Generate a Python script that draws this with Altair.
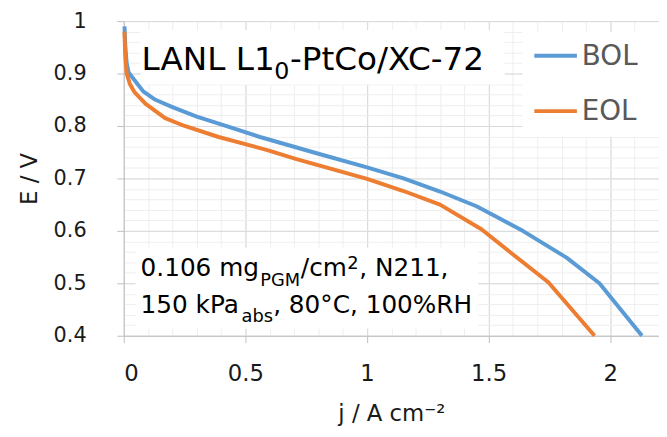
import altair as alt
import pandas as pd

# ---- data ----
bol_j = [0.003, 0.006, 0.012, 0.02, 0.05, 0.08, 0.13, 0.2, 0.3, 0.4, 0.56, 0.8, 1.0, 1.15, 1.3, 1.45, 1.64, 1.82, 1.955, 2.13]
bol_E = [0.99, 0.955, 0.92, 0.902, 0.884, 0.866, 0.85, 0.836, 0.818, 0.803, 0.779, 0.747, 0.721, 0.700, 0.675, 0.647, 0.600, 0.549, 0.500, 0.400]
eol_j = [0.003, 0.006, 0.012, 0.025, 0.045, 0.09, 0.17, 0.25, 0.39, 0.59, 0.71, 1.0, 1.15, 1.3, 1.47, 1.6, 1.745, 1.935]
eol_E = [0.98, 0.935, 0.9, 0.88, 0.864, 0.842, 0.815, 0.800, 0.779, 0.754, 0.737, 0.699, 0.676, 0.650, 0.603, 0.555, 0.502, 0.400]
series = ["BOL", "EOL"]
colors = ["#5B9BD5", "#ED7D31"]

x_major = [0, 0.5, 1, 1.5, 2]
x_minor = [0, 0.1, 0.2, 0.3, 0.4, 0.5, 0.6, 0.7, 0.8, 0.9, 1.0, 1.1, 1.2, 1.3, 1.4, 1.5,
           1.6, 1.7, 1.8, 1.9, 2.0, 2.1, 2.2]
y_major = [0.4, 0.5, 0.6, 0.7, 0.8, 0.9, 1.0]
y_minor = [0.4, 0.42, 0.44, 0.46, 0.48, 0.5, 0.52, 0.54, 0.56, 0.58, 0.6, 0.62, 0.64, 0.66,
           0.68, 0.7, 0.72, 0.74, 0.76, 0.78, 0.8, 0.82, 0.84, 0.86, 0.88, 0.9, 0.92, 0.94,
           0.96, 0.98, 1.0]

x_title = "j / A cm\u207b\u00b2"
y_title = "E / V"
title_parts = ["LANL L1", "0", "-PtCo/XC-72"]
note1_parts = ["0.106 mg", "PGM", "/cm", "2", ", N211,"]
note2_parts = ["150 kPa", "abs", ", 80\u00b0C, 100%RH"]

FONT = "DejaVu Sans"
W, H = 541, 318

df = pd.DataFrame({
    "j": bol_j + eol_j,
    "E": bol_E + eol_E,
    "series": [series[0]] * len(bol_j) + [series[1]] * len(eol_j),
})

xscale = alt.Scale(domain=[0, 2.2], nice=False, zero=False)
yscale = alt.Scale(domain=[0.4, 1.0], nice=False, zero=False)
cscale = alt.Scale(domain=series, range=colors)

minor = alt.Chart(df).mark_line(opacity=0).encode(
    x=alt.X("j:Q", scale=xscale, axis=alt.Axis(orient="bottom", values=x_minor, grid=True,
            gridColor="#eeeeee", domain=False, ticks=False, labels=False, title=None)),
    y=alt.Y("E:Q", scale=yscale, axis=alt.Axis(orient="left", values=y_minor, grid=True,
            gridColor="#eeeeee", domain=False, ticks=False, labels=False, title=None)),
)

lines = alt.Chart(df).mark_line(strokeWidth=4, strokeJoin="round").encode(
    x=alt.X("j:Q", scale=xscale, axis=alt.Axis(
        orient="bottom", values=x_major, grid=True, gridColor="#d9d9d9",
        domainColor="#bfbfbf", tickColor="#bfbfbf", tickSize=7,
        labelExpr="'' + datum.value", labelFont=FONT, labelFontSize=23, labelColor="#1a1a1a",
        labelPadding=20, title=x_title, titleFont=FONT, titleFontSize=23,
        titleFontWeight="normal", titleColor="#1a1a1a", titleX=W / 2, titleY=79,
        titleBaseline="middle", titleAlign="center")),
    y=alt.Y("E:Q", scale=yscale, axis=alt.Axis(
        orient="left", values=y_major, grid=True, gridColor="#d9d9d9",
        domainColor="#bfbfbf", tickColor="#bfbfbf", tickSize=7,
        labelExpr="'' + datum.value", labelFont=FONT, labelFontSize=21, labelColor="#1a1a1a",
        labelPadding=31, title=y_title, titleFont=FONT, titleFontSize=23,
        titleFontWeight="normal", titleColor="#1a1a1a", titleX=-95, titleY=H / 2,
        titleBaseline="middle", titleAlign="center")),
    color=alt.Color("series:N", scale=cscale, legend=None),
)

one = pd.DataFrame({"a": [0]})


def box(x1, x2, y1, y2):
    return alt.Chart(one).mark_rect(color="white").encode(
        x=alt.value(x1), x2=alt.value(x2), y=alt.value(y1), y2=alt.value(y2))


def txt(s, x, y, size, color="black"):
    return alt.Chart(pd.DataFrame({"t": [s]})).mark_text(
        font=FONT, fontSize=size, align="left", baseline="alphabetic", color=color
    ).encode(text="t:N", x=alt.value(x), y=alt.value(y))


def legend_entry(i, y):
    d = pd.DataFrame({"series": [series[i]]})
    sym = alt.Chart(d).mark_rule(strokeWidth=4).encode(
        x=alt.value(415), x2=alt.value(458), y=alt.value(y),
        color=alt.Color("series:N", scale=cscale, legend=None))
    lab = alt.Chart(d).mark_text(
        font=FONT, fontSize=28, align="left", baseline="middle", color="#595959"
    ).encode(text="series:N", x=alt.value(463), y=alt.value(y + 1))
    return [sym, lab]


boxes = [box(17, 385, 9, 64), box(12, 358, 229, 311), box(403, 542, 11, 117)]
texts = [
    txt(title_parts[0], 18, 49, 33),
    txt(title_parts[1], 152, 59, 24),
    txt(title_parts[2], 168, 49, 33),
    txt(note1_parts[0], 17, 258, 25),
    txt(note1_parts[1], 138, 268, 18),
    txt(note1_parts[2], 179, 258, 25),
    txt(note1_parts[3], 226, 251, 18),
    txt(note1_parts[4], 238, 258, 25),
    txt(note2_parts[0], 17, 295, 25),
    txt(note2_parts[1], 119, 304, 18),
    txt(note2_parts[2], 151, 295, 25),
]
legend = legend_entry(0, 35) + legend_entry(1, 91)

chart = alt.layer(minor, *boxes, lines, *texts, *legend).resolve_axis(
    x="independent", y="independent"
).properties(
    width=W, height=H,
    autosize=alt.AutoSizeParams(type="none"),
    padding={"left": 117, "top": 11, "right": 0, "bottom": 90},
).configure_view(strokeWidth=0)

chart.save("out.html", embed_options={"renderer": "svg", "actions": False})
